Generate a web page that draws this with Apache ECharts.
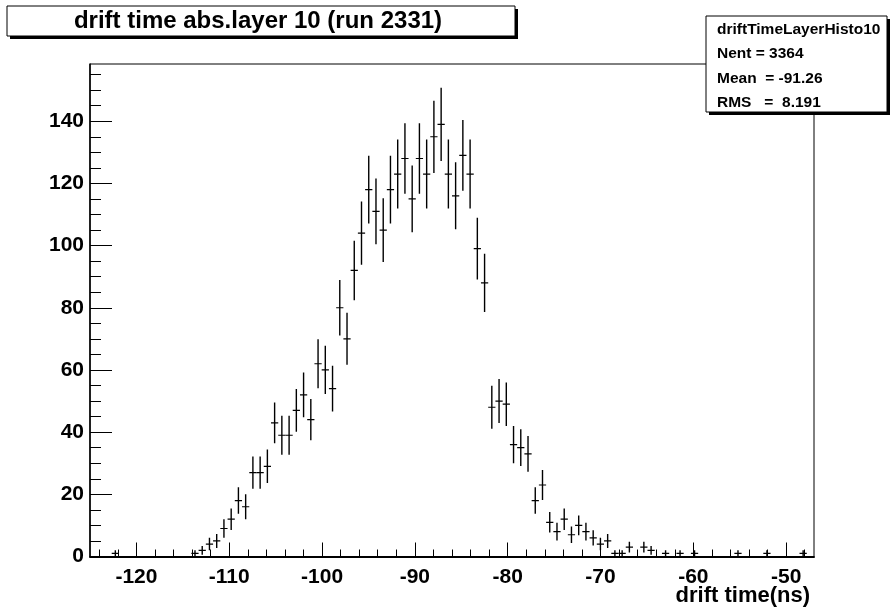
<!DOCTYPE html>
<html>
<head>
<meta charset="utf-8">
<script src="https://cdn.jsdelivr.net/npm/echarts@6/dist/echarts.min.js"></script>
<style>
  html, body { margin: 0; padding: 0; background: #fff; }
  #chart { width: 891px; height: 613px; }
</style>
</head>
<body>
<div id="chart"></div>
<script>
// ---- data (100 bins, -125 .. -47 ns) ----
const xMin = -125;
const xMax = -47;
const counts = [
  0, 0, 0, 1, 0, 0, 0, 0, 0, 0,
  0, 0, 0, 0, 1, 2, 4, 5, 9, 12,
  18, 16, 27, 27, 29, 43, 39, 39, 47, 52,
  44, 62, 60, 54, 80, 70, 92, 104, 118, 111,
  105, 118, 123, 128, 115, 128, 123, 135, 139, 123,
  116, 129, 123, 99, 88, 48, 50, 49, 36, 35,
  33, 18, 23, 11, 8, 12, 7, 10, 8, 6,
  4, 5, 1, 1, 3, 0, 3, 2, 0, 1,
  0, 1, 0, 1, 0, 0, 0, 0, 0, 1,
  0, 0, 0, 1, 0, 0, 0, 0, 1, 0
];
const yMax = 158.4;
const xMajorTicks = [-120, -110, -100, -90, -80, -70, -60, -50];
const xMinorTicks = [-124, -122, -118, -116, -114, -112, -108, -106, -104, -102,
  -98, -96, -94, -92, -88, -86, -84, -82, -78, -76, -74, -72, -68, -66, -64, -62,
  -58, -56, -54, -52, -48];
const yMajorTicks = [0, 20, 40, 60, 80, 100, 120, 140];
const yMinorTicks = [5, 10, 15, 25, 30, 35, 45, 50, 55, 65, 70, 75, 85, 90, 95,
  105, 110, 115, 125, 130, 135, 145, 150, 155];
const titleText = 'drift time abs.layer 10 (run 2331)';
const statsLines = ['driftTimeLayerHisto10', 'Nent = 3364', 'Mean  = -91.26', 'RMS   =  8.191'];
const xTitle = 'drift time(ns)';

// ---- build ----
const binWidth = (xMax - xMin) / counts.length;
const histData = counts
  .map((c, i) => [xMin + (i + 0.5) * binWidth, c])
  .filter(d => d[1] > 0);

const FONT = "'Liberation Sans', Arial, Helvetica, sans-serif";
const chart = echarts.init(document.getElementById('chart'), null, { renderer: 'canvas' });

const gridRect = { left: 90, top: 64, right: 77, bottom: 56.5 };

const option = {
  backgroundColor: '#ffffff',
  animation: false,
  grid: [
    Object.assign({ show: true, borderColor: '#000', borderWidth: 1, backgroundColor: '#fff', containLabel: false }, gridRect),
    Object.assign({ show: false, containLabel: false }, gridRect)
  ],
  xAxis: [
    {
      type: 'value', gridIndex: 0, min: xMin, max: xMax, position: 'bottom',
      axisLine: { show: true, onZero: false, lineStyle: { color: '#000', width: 2 } },
      axisTick: { show: true, inside: true, length: 14, customValues: xMajorTicks, lineStyle: { color: '#000', width: 1 } },
      axisLabel: { show: true, customValues: xMajorTicks, color: '#000', fontSize: 21, fontWeight: 'bold', fontFamily: FONT, margin: 10 },
      splitLine: { show: false }
    },
    {
      type: 'value', gridIndex: 1, min: xMin, max: xMax, position: 'bottom',
      axisLine: { show: false, onZero: false },
      axisTick: { show: true, inside: true, length: 7, customValues: xMinorTicks, lineStyle: { color: '#000', width: 1 } },
      axisLabel: { show: false },
      splitLine: { show: false }
    }
  ],
  yAxis: [
    {
      type: 'value', gridIndex: 0, min: 0, max: yMax, position: 'left',
      axisLine: { show: true, onZero: false, lineStyle: { color: '#000', width: 1.5 } },
      axisTick: { show: true, inside: true, length: 22, customValues: yMajorTicks, lineStyle: { color: '#000', width: 1 } },
      axisLabel: { show: true, customValues: yMajorTicks, color: '#000', fontSize: 21, fontWeight: 'bold', fontFamily: FONT, margin: 6 },
      splitLine: { show: false }
    },
    {
      type: 'value', gridIndex: 1, min: 0, max: yMax, position: 'left',
      axisLine: { show: false, onZero: false },
      axisTick: { show: true, inside: true, length: 11, customValues: yMinorTicks, lineStyle: { color: '#000', width: 1 } },
      axisLabel: { show: false },
      splitLine: { show: false }
    }
  ],
  series: [
    {
      type: 'custom',
      xAxisIndex: 0,
      yAxisIndex: 0,
      data: histData,
      clip: true,
      renderItem: function (params, api) {
        const x = api.value(0);
        const v = api.value(1);
        const e = Math.sqrt(v);
        const l = api.coord([x - binWidth / 2, v]);
        const r = api.coord([x + binWidth / 2, v]);
        const t = api.coord([x, v + e]);
        const b = api.coord([x, Math.max(0, v - e)]);
        return {
          type: 'group',
          children: [
            { type: 'line', shape: { x1: l[0], y1: l[1], x2: r[0], y2: r[1] }, style: { stroke: '#000', lineWidth: 1.2 } },
            { type: 'line', shape: { x1: t[0], y1: t[1], x2: b[0], y2: b[1] }, style: { stroke: '#000', lineWidth: 1.4 } }
          ]
        };
      }
    }
  ],
  graphic: [
    // title box
    { type: 'rect', z: 100, shape: { x: 10, y: 9, width: 508, height: 30 }, style: { fill: '#000' } },
    { type: 'rect', z: 101, shape: { x: 7, y: 6, width: 508, height: 30 }, style: { fill: '#fff', stroke: '#000', lineWidth: 1 } },
    { type: 'text', z: 102, x: 258, y: 21, style: { text: titleText, fill: '#000', font: 'bold 24px ' + FONT, textAlign: 'center', textVerticalAlign: 'middle' } },
    // stats box
    { type: 'rect', z: 100, shape: { x: 709, y: 19, width: 181, height: 96 }, style: { fill: '#000' } },
    { type: 'rect', z: 101, shape: { x: 706, y: 16, width: 181, height: 96 }, style: { fill: '#fff', stroke: '#000', lineWidth: 1 } },
    { type: 'text', z: 102, x: 717, y: 29.5, style: { text: statsLines[0], fill: '#000', font: 'bold 15.5px ' + FONT, textAlign: 'left', textVerticalAlign: 'middle' } },
    { type: 'text', z: 102, x: 717, y: 54, style: { text: statsLines[1], fill: '#000', font: 'bold 15.5px ' + FONT, textAlign: 'left', textVerticalAlign: 'middle' } },
    { type: 'text', z: 102, x: 717, y: 78.5, style: { text: statsLines[2], fill: '#000', font: 'bold 15.5px ' + FONT, textAlign: 'left', textVerticalAlign: 'middle' } },
    { type: 'text', z: 102, x: 717, y: 103, style: { text: statsLines[3], fill: '#000', font: 'bold 15.5px ' + FONT, textAlign: 'left', textVerticalAlign: 'middle' } },
    // x-axis title
    { type: 'text', z: 102, x: 810, y: 596, style: { text: xTitle, fill: '#000', font: 'bold 22px ' + FONT, textAlign: 'right', textVerticalAlign: 'middle' } }
  ]
};
chart.setOption(option);
</script>
</body>
</html>
